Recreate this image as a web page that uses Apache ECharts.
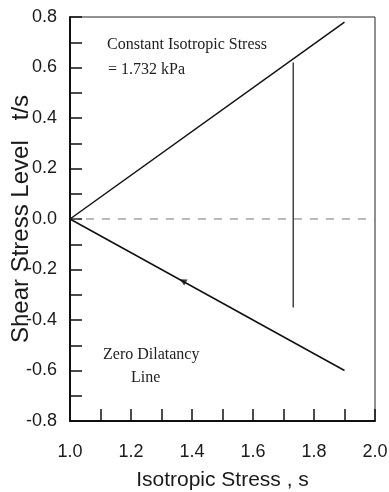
<!DOCTYPE html>
<html>
<head>
<meta charset="utf-8">
<script src="https://cdn.jsdelivr.net/npm/echarts@6/dist/echarts.min.js"></script>
<style>
  html, body { margin: 0; padding: 0; background: #fff; }
  #main { width: 389px; height: 492px; }
</style>
</head>
<body>
<div id="main"></div>
<script>
// 数据
var upperX = [1.0, 1.9];
var upperY = [0.0, 0.78];
var lowerX = [1.0, 1.9];
var lowerY = [0.0, -0.6];
var stressX = [1.732, 1.732];
var stressY = [0.62, -0.35];
var zeroX = [1.0, 2.0];
var zeroY = [0.0, 0.0];
var arrowX = [1.37];
var arrowY = [-0.245];

function pairs(xs, ys) {
	var out = [];
	for (var i = 0; i < xs.length; i++) {
		out.push([xs[i], ys[i]]);
	}
	return out;
}

var chart = echarts.init(document.getElementById('main'));
var labelFont = "'Liberation Sans', Arial, sans-serif";
var serif = "'Liberation Serif', 'Times New Roman', serif";

var option = {
	animation: false,
	backgroundColor: '#fff',
	grid: {
		left: 70, right: 14, top: 17, bottom: 71,
		outerBoundsMode: 'none', containLabel: false,
		show: true, borderColor: '#222', borderWidth: 1
	},
	xAxis: {
		type: 'value', min: 1.0, max: 2.0, interval: 0.2,
		name: 'Isotropic Stress , s', nameLocation: 'middle', nameGap: 49,
		nameMoveOverlap: false,
		nameTextStyle: { fontSize: 21, color: '#1a1a1a', fontFamily: labelFont },
		axisLine: { onZero: false, lineStyle: { color: '#111', width: 2 } },
		axisTick: { show: true, inside: true, length: 12, lineStyle: { color: '#111', width: 1.5 } },
		minorTick: { show: true, splitNumber: 2, length: 12, lineStyle: { color: '#111', width: 1.5 } },
		axisLabel: {
			margin: 22, fontSize: 18, color: '#1a1a1a', fontFamily: labelFont,
			formatter: function (v) { return v.toFixed(1); }
		},
		splitLine: { show: false }
	},
	yAxis: {
		type: 'value', min: -0.8, max: 0.8, interval: 0.2,
		name: 'Shear Stress Level   t/s', nameLocation: 'middle', nameGap: 37,
		nameMoveOverlap: false,
		nameTextStyle: { fontSize: 24, color: '#1a1a1a', fontFamily: labelFont },
		axisLine: { onZero: false, lineStyle: { color: '#111', width: 2 } },
		axisTick: { show: true, inside: true, length: 12, lineStyle: { color: '#111', width: 1.5 } },
		minorTick: { show: true, splitNumber: 2, length: 12, lineStyle: { color: '#111', width: 1.5 } },
		axisLabel: {
			margin: 13, fontSize: 18, color: '#1a1a1a', fontFamily: labelFont,
			formatter: function (v) { return v.toFixed(1); }
		},
		splitLine: { show: false }
	},
	series: [
		{
			type: 'line', data: pairs(zeroX, zeroY), symbol: 'none',
			lineStyle: { color: '#777', width: 1, type: [8, 8] }
		},
		{
			type: 'line', data: pairs(upperX, upperY), symbol: 'none',
			lineStyle: { color: '#111', width: 1.5 }
		},
		{
			type: 'line', data: pairs(lowerX, lowerY), symbol: 'none',
			lineStyle: { color: '#111', width: 1.5 }
		},
		{
			type: 'line', data: pairs(stressX, stressY), symbol: 'none',
			lineStyle: { color: '#444', width: 1.5 }
		},
		{
			type: 'scatter', data: pairs(arrowX, arrowY),
			symbol: 'triangle', symbolSize: 7, symbolRotate: 61,
			itemStyle: { color: '#111' }
		}
	],
	graphic: [
		{ type: 'text', left: 107, top: 37,
		  style: { text: 'Constant Isotropic Stress', fontSize: 16, fontFamily: serif, fill: '#222' } },
		{ type: 'text', left: 108, top: 62,
		  style: { text: '= 1.732 kPa', fontSize: 16, fontFamily: serif, fill: '#222' } },
		{ type: 'text', left: 103, top: 347,
		  style: { text: 'Zero Dilatancy', fontSize: 16, fontFamily: serif, fill: '#222' } },
		{ type: 'text', left: 131, top: 370,
		  style: { text: 'Line', fontSize: 16, fontFamily: serif, fill: '#222' } }
	]
};
chart.setOption(option);
</script>
</body>
</html>
